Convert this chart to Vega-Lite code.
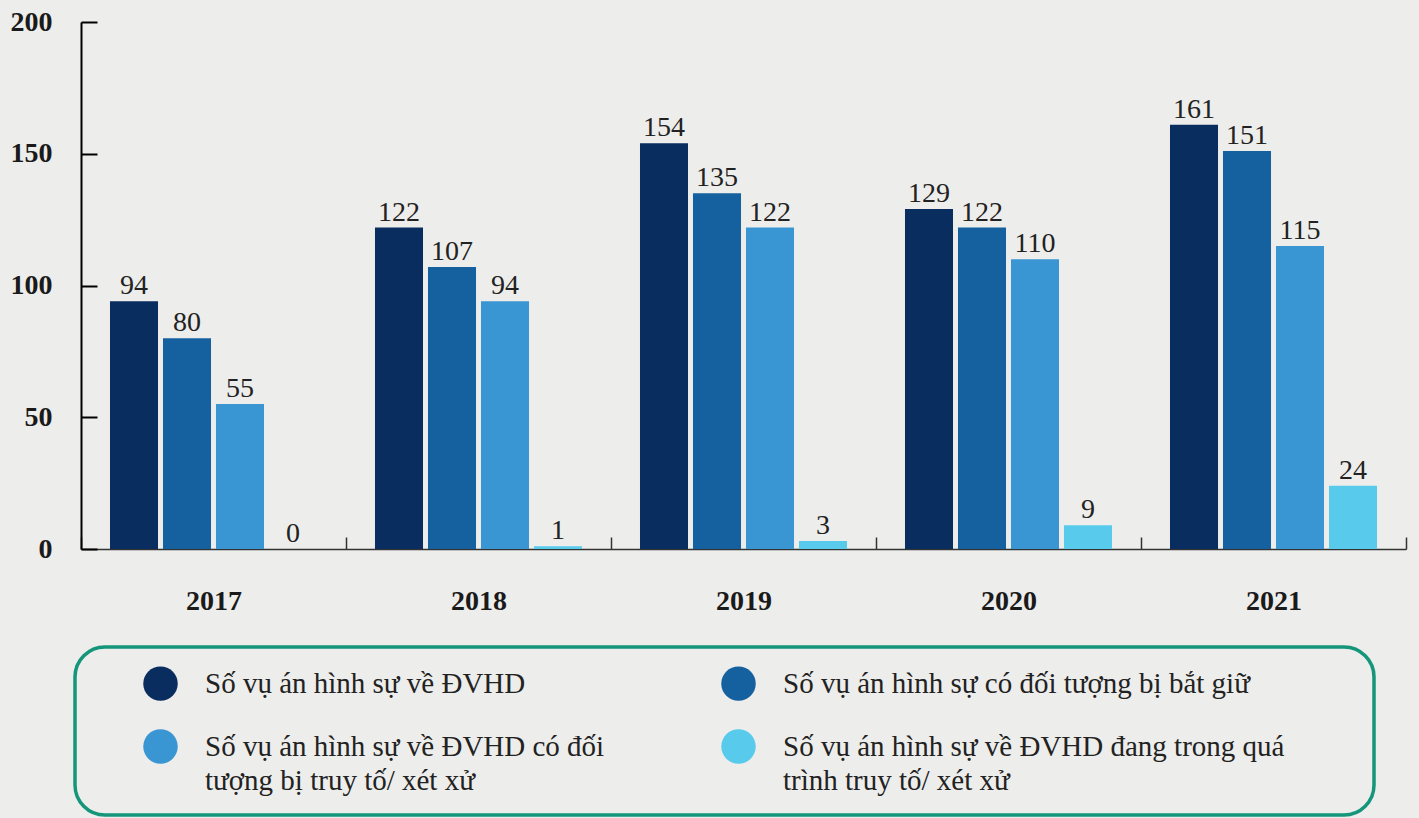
{
  "$schema": "https://vega.github.io/schema/vega-lite/v6.json",
  "width": 1325,
  "height": 527,
  "autosize": "none",
  "padding": {"left": 81, "top": 22, "right": 13, "bottom": 269},
  "background": "#ededeb",
  "config": {
    "view": {"stroke": null},
    "font": "Liberation Serif",
    "style": {"guide-label": {"lineHeight": 34}},
    "legend": {"strokeWidth": 3.5}
  },
  "data": {
    "values": [
      {"year": "2017", "series": "Số vụ án hình sự về ĐVHD", "value": 94},
      {"year": "2017", "series": "Số vụ án hình sự có đối tượng bị bắt giữ", "value": 80},
      {"year": "2017", "series": "Số vụ án hình sự về ĐVHD có đối tượng bị truy tố/ xét xử", "value": 55},
      {"year": "2017", "series": "Số vụ án hình sự về ĐVHD đang trong quá trình truy tố/ xét xử", "value": 0},
      {"year": "2018", "series": "Số vụ án hình sự về ĐVHD", "value": 122},
      {"year": "2018", "series": "Số vụ án hình sự có đối tượng bị bắt giữ", "value": 107},
      {"year": "2018", "series": "Số vụ án hình sự về ĐVHD có đối tượng bị truy tố/ xét xử", "value": 94},
      {"year": "2018", "series": "Số vụ án hình sự về ĐVHD đang trong quá trình truy tố/ xét xử", "value": 1},
      {"year": "2019", "series": "Số vụ án hình sự về ĐVHD", "value": 154},
      {"year": "2019", "series": "Số vụ án hình sự có đối tượng bị bắt giữ", "value": 135},
      {"year": "2019", "series": "Số vụ án hình sự về ĐVHD có đối tượng bị truy tố/ xét xử", "value": 122},
      {"year": "2019", "series": "Số vụ án hình sự về ĐVHD đang trong quá trình truy tố/ xét xử", "value": 3},
      {"year": "2020", "series": "Số vụ án hình sự về ĐVHD", "value": 129},
      {"year": "2020", "series": "Số vụ án hình sự có đối tượng bị bắt giữ", "value": 122},
      {"year": "2020", "series": "Số vụ án hình sự về ĐVHD có đối tượng bị truy tố/ xét xử", "value": 110},
      {"year": "2020", "series": "Số vụ án hình sự về ĐVHD đang trong quá trình truy tố/ xét xử", "value": 9},
      {"year": "2021", "series": "Số vụ án hình sự về ĐVHD", "value": 161},
      {"year": "2021", "series": "Số vụ án hình sự có đối tượng bị bắt giữ", "value": 151},
      {"year": "2021", "series": "Số vụ án hình sự về ĐVHD có đối tượng bị truy tố/ xét xử", "value": 115},
      {"year": "2021", "series": "Số vụ án hình sự về ĐVHD đang trong quá trình truy tố/ xét xử", "value": 24}
    ]
  },
  "encoding": {
    "x": {
      "field": "year",
      "type": "nominal",
      "scale": {"paddingInner": 0, "paddingOuter": 0},
      "axis": {
        "title": null,
        "labelAngle": 0,
        "labelFontSize": 28,
        "labelFontWeight": "bold",
        "labelColor": "#1a1a1a",
        "labelPadding": 50,
        "tickBand": "extent",
        "tickSize": -12,
        "tickColor": "#333333",
        "tickWidth": 1.5,
        "domainColor": "#333333",
        "domainWidth": 1.5
      }
    },
    "xOffset": {
      "field": "series",
      "type": "nominal",
      "scale": {
        "domain": [
          "Số vụ án hình sự về ĐVHD",
          "Số vụ án hình sự có đối tượng bị bắt giữ",
          "Số vụ án hình sự về ĐVHD có đối tượng bị truy tố/ xét xử",
          "Số vụ án hình sự về ĐVHD đang trong quá trình truy tố/ xét xử"
        ],
        "paddingInner": 0.094,
        "paddingOuter": 0.547
      }
    },
    "y": {
      "field": "value",
      "type": "quantitative",
      "scale": {"domain": [0, 200]},
      "axis": {
        "title": null,
        "values": [0, 50, 100, 150, 200],
        "grid": false,
        "domainColor": "#000000",
        "domainWidth": 2,
        "tickColor": "#000000",
        "tickWidth": 2,
        "tickSize": -16,
        "labelFontSize": 28,
        "labelFontWeight": "bold",
        "labelColor": "#1a1a1a",
        "labelPadding": 45
      }
    }
  },
  "layer": [
    {
      "mark": {"type": "bar"},
      "encoding": {
        "color": {
          "field": "series",
          "type": "nominal",
          "scale": {
            "domain": [
              "Số vụ án hình sự về ĐVHD",
              "Số vụ án hình sự có đối tượng bị bắt giữ",
              "Số vụ án hình sự về ĐVHD có đối tượng bị truy tố/ xét xử",
              "Số vụ án hình sự về ĐVHD đang trong quá trình truy tố/ xét xử"
            ],
            "range": ["#0a2d5f", "#1561a0", "#3a95d3", "#58cbec"]
          },
          "legend": {
            "title": " ",
            "titleOrient": "right",
            "titlePadding": 71,
            "orient": "none",
            "direction": "horizontal",
            "legendX": -6,
            "legendY": 625,
            "columns": 2,
            "columnPadding": 67,
            "rowPadding": 28,
            "symbolType": "circle",
            "symbolSize": 1190,
            "symbolStrokeWidth": 0,
            "symbolOffset": 49,
            "labelFontSize": 29,
            "labelColor": "#222222",
            "labelOffset": 27,
            "labelLimit": 1000,
            "labelBaseline": "middle",
            "labelExpr": "datum.label == 'Số vụ án hình sự về ĐVHD có đối tượng bị truy tố/ xét xử' ? ['Số vụ án hình sự về ĐVHD có đối', 'tượng bị truy tố/ xét xử'] : datum.label == 'Số vụ án hình sự về ĐVHD đang trong quá trình truy tố/ xét xử' ? ['Số vụ án hình sự về ĐVHD đang trong quá', 'trình truy tố/ xét xử'] : datum.label",
            "padding": 19,
            "strokeColor": "#15967b",
            "cornerRadius": 30,
            "fillColor": null
          }
        }
      }
    },
    {
      "mark": {"type": "text", "baseline": "alphabetic", "dy": -7, "fontSize": 28, "color": "#222222"},
      "encoding": {"text": {"field": "value", "type": "quantitative"}}
    }
  ]
}
